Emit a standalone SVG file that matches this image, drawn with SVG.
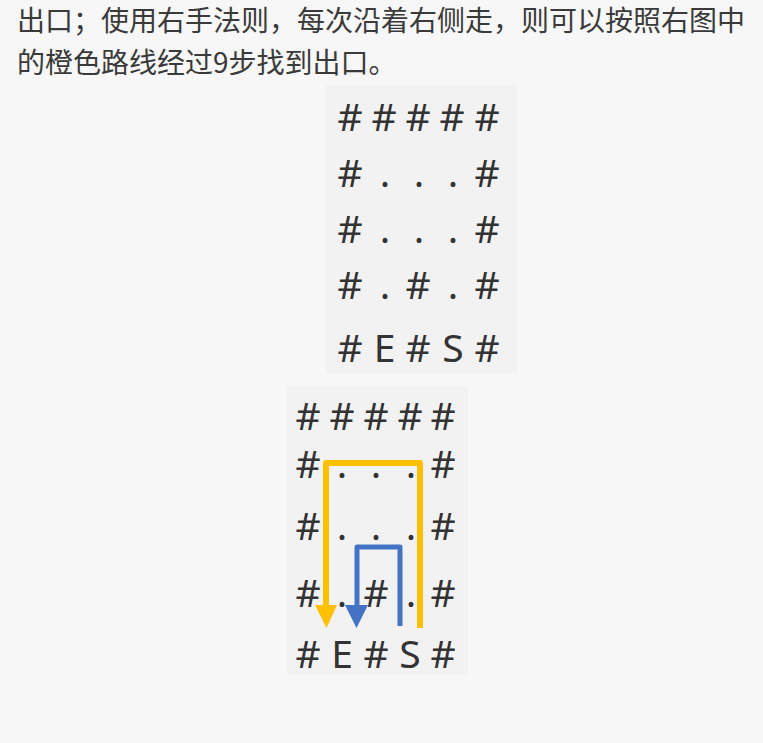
<svg xmlns="http://www.w3.org/2000/svg" width="763" height="743" viewBox="0 0 763 743">
<style>
.t{font-family:"Noto Sans CJK SC","Noto Sans",sans-serif;font-size:28px;fill:#3a3a3a}
.m{font-family:"Noto Sans","Liberation Sans",sans-serif;font-size:39px;fill:#333;text-anchor:middle}
.box{fill:#f2f2f2}
</style>
<rect width="763" height="743" fill="#f7f7f7"/>
<g id="caption">
<text class="t" x="17" y="31">出口；使用右手法则，每次沿着右侧走，则可以按照右图中</text>
<text class="t" x="17" y="73">的橙色路线经过9步找到出口。</text>
</g>
<g id="maze1">
<rect class="box" x="326" y="85" width="192" height="288"/>
<text class="m" y="131"><tspan x="350">#</tspan><tspan x="384">#</tspan><tspan x="418">#</tspan><tspan x="452">#</tspan><tspan x="487">#</tspan></text>
<text class="m" y="187"><tspan x="350">#</tspan><tspan x="385">.</tspan><tspan x="419">.</tspan><tspan x="453">.</tspan><tspan x="487">#</tspan></text>
<text class="m" y="243"><tspan x="350">#</tspan><tspan x="385">.</tspan><tspan x="419">.</tspan><tspan x="453">.</tspan><tspan x="487">#</tspan></text>
<text class="m" y="299"><tspan x="350">#</tspan><tspan x="385">.</tspan><tspan x="418">#</tspan><tspan x="453">.</tspan><tspan x="487">#</tspan></text>
<text class="m" y="362"><tspan x="350">#</tspan><tspan x="384.5">E</tspan><tspan x="418">#</tspan><tspan x="453">S</tspan><tspan x="487">#</tspan></text>
</g>
<g id="maze2">
<rect class="box" x="287" y="386" width="181" height="289"/>
<text class="m" y="430"><tspan x="308">#</tspan><tspan x="342">#</tspan><tspan x="376">#</tspan><tspan x="410">#</tspan><tspan x="443">#</tspan></text>
<text class="m" y="478"><tspan x="308">#</tspan><tspan x="342">.</tspan><tspan x="376">.</tspan><tspan x="411">.</tspan><tspan x="443">#</tspan></text>
<text class="m" y="540"><tspan x="308">#</tspan><tspan x="342">.</tspan><tspan x="376">.</tspan><tspan x="411">.</tspan><tspan x="443">#</tspan></text>
<text class="m" y="607"><tspan x="308">#</tspan><tspan x="342">.</tspan><tspan x="376">#</tspan><tspan x="411">.</tspan><tspan x="443">#</tspan></text>
<text class="m" y="668"><tspan x="308">#</tspan><tspan x="342">E</tspan><tspan x="376">#</tspan><tspan x="410">S</tspan><tspan x="443">#</tspan></text>
</g>
<g id="connectors" fill="none" stroke-linejoin="round">
<path d="M420,628 V463 H326 V606" stroke="#FFC000" stroke-width="6"/>
<polygon points="315,605 337,605 326.5,628" fill="#FFC000"/>
<path d="M400,626 V547 H357 V606" stroke="#4472C4" stroke-width="5"/>
<polygon points="345,605 368,605 356.5,628" fill="#4472C4"/>
</g>
</svg>
